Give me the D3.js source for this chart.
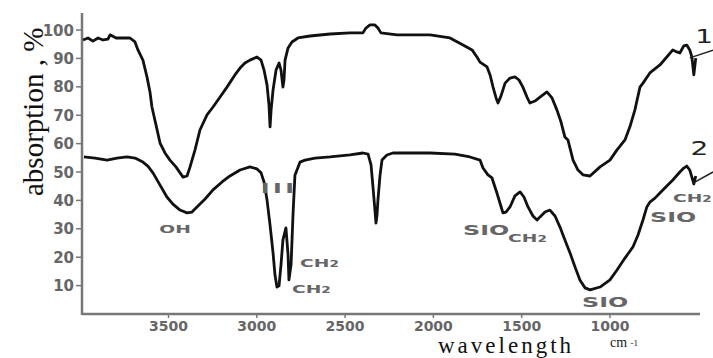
<!DOCTYPE html>
<html>
<head>
<meta charset="utf-8">
<script src="https://cdn.jsdelivr.net/npm/d3@7"></script>
<style>
  body { margin: 0; background: #fff; }
  svg { display: block; }
</style>
</head>
<body>
<div id="chart"></div>
<script>
// IR spectra, wavenumber (cm-1) vs absorption %
const xTicks = [3500, 3000, 2500, 2000, 1500, 1000];
const yTicks = [10, 20, 30, 40, 50, 60, 70, 80, 90, 100];

// spectrum 1
const wn1 = [3984, 3956, 3928, 3899, 3871, 3843, 3831, 3797, 3763, 3718, 3690, 3673, 3645, 3622, 3605,
  3594, 3571, 3548, 3520, 3492, 3458, 3418, 3395, 3378, 3350, 3322, 3282, 3248, 3208, 3169, 3124, 3095,
  3067, 3039, 2999, 2976, 2959, 2942, 2931, 2925, 2919, 2908, 2891, 2874, 2863, 2852, 2846, 2840, 2823,
  2801, 2767, 2699, 2585, 2472, 2399, 2382, 2359, 2331, 2314, 2297, 2206, 2019, 1906, 1832, 1781, 1753,
  1736, 1696, 1679, 1662, 1645, 1634, 1617, 1594, 1566, 1538, 1515, 1493, 1470, 1453, 1425, 1396, 1357,
  1328, 1300, 1277, 1255, 1238, 1209, 1181, 1153, 1113, 1056, 1000, 960, 915, 887, 859, 830, 813, 774,
  717, 678, 644, 621, 604, 582, 565, 548, 536, 525, 514];
const abs1 = [96.5, 97.2, 96.1, 97.2, 96.5, 96.8, 98.3, 97.2, 97.2, 97.2, 95.8, 93.0, 89.4, 83.5, 78.2,
  72.9, 66.6, 60.2, 56.7, 54.2, 51.8, 48.2, 48.6, 51.8, 57.8, 64.8, 70.1, 72.9, 76.4, 79.9, 84.2, 86.6,
  88.4, 89.4, 90.5, 89.4, 85.9, 80.6, 73.6, 65.9, 71.9, 78.9, 85.9, 88.4, 85.9, 79.9, 82.4, 89.4, 93.7,
  95.8, 97.2, 97.9, 98.6, 99.0, 99.0, 100.7, 101.8, 101.8, 100.7, 99.0, 98.3, 98.3, 97.2, 94.7, 93.0, 90.5,
  88.7, 87.0, 84.2, 79.9, 76.1, 74.3, 76.8, 81.3, 83.1, 83.5, 82.4, 79.9, 76.4, 74.3, 75.0, 76.4, 78.2,
  76.1, 71.8, 67.6, 62.3, 61.3, 54.2, 50.7, 49.0, 48.6, 51.8, 54.2, 57.8, 61.3, 65.9, 71.8, 79.9, 81.3, 84.9,
  87.7, 90.5, 93.0, 92.3, 91.9, 94.4, 94.7, 93.0, 90.5, 84.2, 90.1];

// spectrum 2
const wn2 = [3979, 3916, 3848, 3792, 3735, 3690, 3645, 3617, 3588, 3548, 3509, 3475, 3435, 3395, 3367,
  3339, 3293, 3248, 3197, 3152, 3095, 3039, 2999, 2976, 2959, 2942, 2925, 2908, 2897, 2886, 2874, 2863,
  2852, 2835, 2823, 2818, 2806, 2795, 2784, 2755, 2727, 2670, 2585, 2472, 2399, 2370, 2353, 2342, 2331,
  2325, 2319, 2314, 2302, 2291, 2263, 2229, 2019, 1878, 1793, 1736, 1719, 1691, 1668, 1640, 1623, 1606,
  1589, 1566, 1538, 1509, 1487, 1464, 1436, 1413, 1396, 1368, 1340, 1311, 1283, 1255, 1226, 1198, 1170,
  1141, 1113, 1056, 1000, 960, 915, 870, 841, 813, 791, 774, 745, 717, 678, 644, 604, 582, 565, 548, 536,
  525, 514];
const abs2 = [55.3, 54.9, 54.2, 54.9, 55.3, 54.9, 53.5, 52.1, 49.7, 45.4, 41.2, 38.7, 36.6, 35.6, 35.9,
  37.7, 40.5, 43.7, 46.5, 48.6, 50.7, 51.8, 51.1, 49.7, 46.5, 40.1, 31.3, 21.5, 13.7, 9.5, 9.9, 17.3,
  26.1, 30.3, 20.8, 12.0, 17.3, 34.9, 48.9, 53.5, 54.2, 54.9, 55.3, 56.0, 56.7, 56.3, 52.5, 44.7, 36.6,
  32.0, 34.9, 40.1, 48.9, 54.2, 56.0, 56.7, 56.7, 56.3, 55.3, 54.2, 51.4, 49.0, 47.9, 42.6, 39.1, 35.6,
  35.9, 37.7, 41.6, 43.0, 41.2, 37.7, 34.5, 33.1, 34.2, 35.9, 36.6, 34.5, 30.6, 26.1, 21.5, 16.6, 12.0,
  9.2, 8.5, 9.5, 12.0, 15.5, 19.7, 23.6, 27.8, 33.1, 37.7, 39.4, 40.8, 42.6, 45.1, 47.2, 50.0, 51.4, 52.1,
  50.7, 48.2, 45.8, 48.6];

// peak annotations
const annText = ['OH', 'III', 'CH2', 'CH2', 'SiO', 'CH2', 'SiO', 'SiO', 'CH2'];
const annWn = [3463, 2874, 2755, 2801, 1832, 1577, 1158, 773, 643];
const annAbs = [28.5, 42.6, 16.6, 7.4, 27.8, 25.4, 2.5, 32.4, 39.4];

// curve numbers and their leader lines
const seriesNames = ['1', '2'];
const leaderFrom = [[548, 90.2], [530, 46.1]];
const leaderTo = [[416, 92.9], [416, 50.0]];
const nameAt = [[466, 95.4], [494, 56.0]];

const width = 713, height = 358;
const x = d3.scaleLinear().domain([3990, 490]).range([82, 700]);
const y = d3.scaleLinear().domain([0, 106]).range([314, 13]);

const svg = d3.select('#chart').append('svg')
  .attr('width', width).attr('height', height);

const axisColor = '#777';
const tickFont = '"DejaVu Sans", sans-serif';
const serif = '"Liberation Serif", "Times New Roman", serif';

// axes
svg.append('line')
  .attr('x1', x.range()[0]).attr('x2', x.range()[0])
  .attr('y1', y.range()[1]).attr('y2', y.range()[0] + 1)
  .attr('stroke', axisColor).attr('stroke-width', 2.5);
svg.append('line')
  .attr('x1', x.range()[0]).attr('x2', x.range()[1])
  .attr('y1', y.range()[0]).attr('y2', y.range()[0])
  .attr('stroke', axisColor).attr('stroke-width', 2.5);

// y ticks
const yt = svg.append('g');
yt.selectAll('line').data(yTicks).enter().append('line')
  .attr('x1', x.range()[0] - 6).attr('x2', x.range()[0])
  .attr('y1', (d) => y(d)).attr('y2', (d) => y(d))
  .attr('stroke', axisColor).attr('stroke-width', 1.5);
yt.selectAll('text').data(yTicks).enter().append('text')
  .attr('x', x.range()[0] - 8)
  .attr('y', (d) => y(d) + 5.5)
  .attr('text-anchor', 'end')
  .attr('font-family', tickFont).attr('font-weight', 'bold')
  .attr('font-size', '15px').attr('fill', '#666')
  .text((d) => d);

// x ticks
const xt = svg.append('g');
xt.selectAll('line').data(xTicks).enter().append('line')
  .attr('x1', (d) => x(d)).attr('x2', (d) => x(d))
  .attr('y1', y.range()[0]).attr('y2', y.range()[0] + 4)
  .attr('stroke', axisColor).attr('stroke-width', 1.5);
xt.selectAll('text').data(xTicks).enter().append('text')
  .attr('x', (d) => x(d))
  .attr('y', 331)
  .attr('text-anchor', 'middle')
  .attr('font-family', tickFont).attr('font-weight', 'bold')
  .attr('font-size', '14px').attr('fill', '#666')
  .text((d) => d);

// axis titles
svg.append('text')
  .attr('transform', 'translate(43,196) rotate(-90)')
  .attr('font-family', serif)
  .attr('font-size', '29px').attr('fill', '#111')
  .text('absorption , %');

svg.append('text')
  .attr('x', 438).attr('y', 353)
  .attr('font-family', serif)
  .attr('font-size', '23px').attr('letter-spacing', '3px').attr('fill', '#111')
  .text('wavelength');

const cm = svg.append('text')
  .attr('x', 610).attr('y', 347)
  .attr('font-family', serif)
  .attr('font-size', '14px').attr('fill', '#222');
cm.append('tspan').text('cm ');
cm.append('tspan').attr('font-size', '9px').attr('dy', -1).text('-1');

// spectra
const line = d3.line()
  .x((d) => x(d[0]))
  .y((d) => y(d[1]));

[[wn1, abs1], [wn2, abs2]].forEach(([w, a]) => {
  svg.append('path')
    .datum(w.map((v, i) => [v, a[i]]))
    .attr('fill', 'none')
    .attr('stroke', '#111')
    .attr('stroke-width', 2.8)
    .attr('stroke-linejoin', 'round')
    .attr('d', line);
});

// curve numbers
seriesNames.forEach((n, i) => {
  svg.append('line')
    .attr('x1', x(leaderFrom[i][0])).attr('y1', y(leaderFrom[i][1]))
    .attr('x2', x(leaderTo[i][0])).attr('y2', y(leaderTo[i][1]))
    .attr('stroke', '#222').attr('stroke-width', 1.5);
  svg.append('text')
    .attr('transform', `translate(${x(nameAt[i][0])},${y(nameAt[i][1])}) scale(1.4,1)`)
    .attr('text-anchor', 'middle')
    .attr('font-family', tickFont)
    .attr('font-size', '20px').attr('fill', '#222')
    .text(n);
});

// peak labels (wide grey lettering)
annText.forEach((t, i) => {
  const g = svg.append('text')
    .attr('transform', `translate(${x(annWn[i])},${y(annAbs[i])}) scale(1.7,1)`)
    .attr('text-anchor', t === 'OH' || t === 'III' ? 'middle' : 'start')
    .attr('font-family', tickFont).attr('font-weight', 'bold')
    .attr('font-size', t === 'SiO' ? '14px' : '11px')
    .attr('fill', '#666');
  if (t === 'CH2') {
    g.append('tspan').text('CH');
    g.append('tspan').attr('font-size', '8px').text('2');
  } else if (t === 'III') {
    g.attr('letter-spacing', '2px').attr('font-size', '14px').text(t);
  } else {
    g.text(t.toUpperCase());
  }
});
</script>
</body>
</html>
